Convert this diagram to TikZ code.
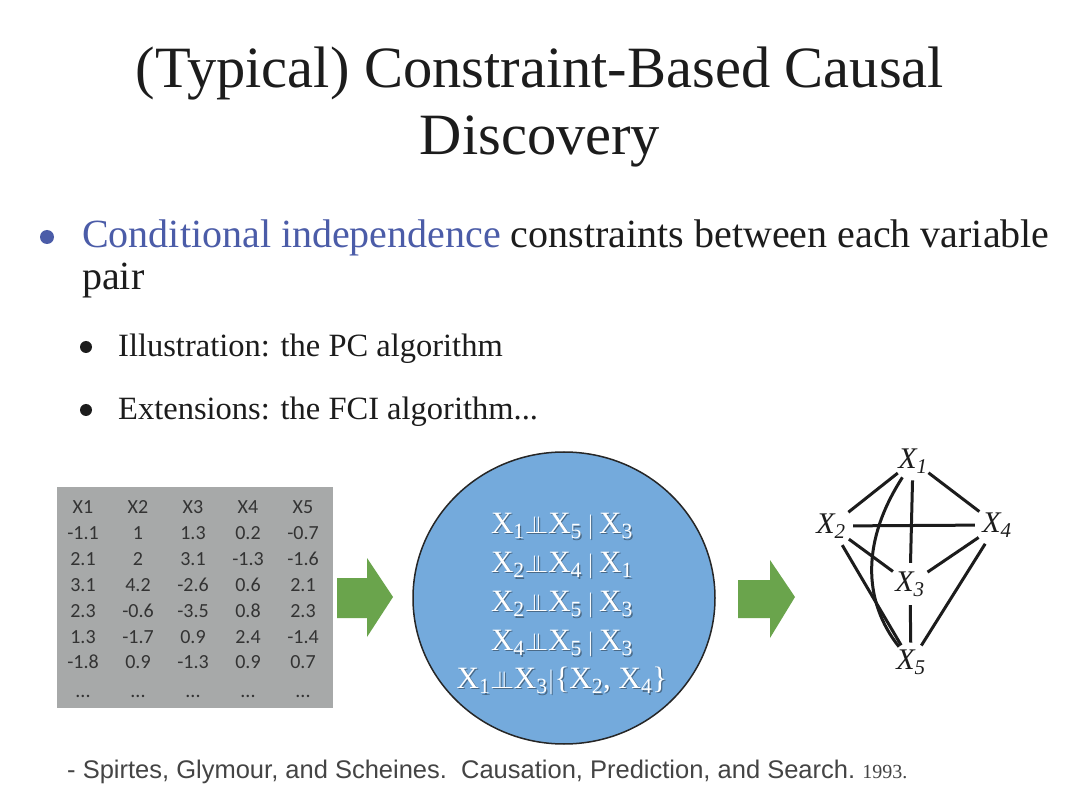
\documentclass[tikz,border=0pt]{standalone}
\usepackage{fontspec}
\setmainfont{Liberation Serif}
\newfontfamily\tabfont{Carlito}
\newfontfamily\citefont{Liberation Sans}
\definecolor{txt}{HTML}{1C1C1C}
\definecolor{blueword}{HTML}{4B5CA8}
\definecolor{tablegray}{HTML}{A7A9A9}
\definecolor{tabletext}{HTML}{333333}
\definecolor{arrowgreen}{HTML}{6AA44C}
\definecolor{circblue}{HTML}{74AADC}
\definecolor{citegray}{HTML}{444444}
\definecolor{shadowcol}{HTML}{4A6A88}
\tikzset{
  title/.style={font=\fontsize{58.5}{62}\selectfont, text=txt, anchor=base},
  bullettext/.style={font=\fontsize{40}{44}\selectfont, text=txt, anchor=base west, inner sep=0},
  subtext/.style={font=\fontsize{32.5}{36}\selectfont, text=txt, anchor=base west, inner sep=0},
  cell/.style={font=\tabfont\fontsize{20}{22}\selectfont, text=tabletext, anchor=base},
  indep/.style={font=\fontsize{31}{36}\selectfont, text=white, anchor=base},
  gnode/.style={circle, inner sep=0, minimum size=40pt, font=\itshape\fontsize{30}{32}\selectfont, text=txt},
  gedge/.style={line width=3pt, draw=txt},
  bigarrow/.style={fill=arrowgreen, draw=none},
}
\newcommand{\indsym}{$\perp\mkern-11mu\perp$}
\newcommand{\condbar}{\,$|$\,}
\newcommand{\shadowed}[1]{\makebox[0pt][l]{\hspace{1.2pt}\raisebox{-1.5pt}{\textcolor{shadowcol}{#1}}}#1}
\begin{document}
\begin{tikzpicture}[x=1pt,y=-1pt]
\useasboundingbox (0,0) rectangle (1080,810);
\fill[white] (0,0) rectangle (1080,810);
% title
\node[title] (t1) at (540,88) {(Typical) Constraint-Based Causal};
\node[title] (t2) at (540,155) {Discovery};
% bullets
\fill[blueword] (47,237) circle (7);
\node[bullettext] (b1) at (82,248) {\textcolor{blueword}{Conditional independence} constraints between each variable};
\node[bullettext] (b1b) at (82,290) {pair};
\fill[txt] (86,347) circle (6);
\node[subtext] (s1) at (118,357) {Illustration: the PC algorithm};
\fill[txt] (86,410) circle (6);
\node[subtext] (s2) at (118,420) {Extensions: the FCI algorithm...};
% data table
\fill[tablegray] (57,487) rectangle (333,708);
\foreach \x [count=\c] in {83,138,193,248,303} {
  \node[cell] at (\x,514) {X\c};
}
\foreach \row [count=\r] in {{-1.1,1,1.3,0.2,-0.7},{2.1,2,3.1,-1.3,-1.6},{3.1,4.2,-2.6,0.6,2.1},{2.3,-0.6,-3.5,0.8,2.3},{1.3,-1.7,0.9,2.4,-1.4},{-1.8,0.9,-1.3,0.9,0.7}} {
  \foreach \v [count=\c] in \row {
    \pgfmathsetmacro{\xx}{28+55*\c}
    \pgfmathsetmacro{\yy}{514+25.8*\r}
    \node[cell] at (\xx,\yy) {\v};
  }
}
\foreach \x in {83,138,193,248,303} {
  \node[cell] at (\x,697) {...};
}
% arrows
\fill[bigarrow] (337,578) -- (367,578) -- (367,558) -- (393,597) -- (367,637) -- (367,618) -- (337,618) -- cycle;
\fill[bigarrow] (738,580) -- (770,580) -- (770,560) -- (795,597) -- (770,638) -- (770,618) -- (738,618) -- cycle;
% circle
\draw[fill=circblue, draw=black!85, line width=1.5pt] (564,598) ellipse (151 and 146);
\node[indep] (c1) at (562,533) {\shadowed{X\textsubscript{1}\indsym X\textsubscript{5}\condbar X\textsubscript{3}}};
\node[indep] (c2) at (562,572) {\shadowed{X\textsubscript{2}\indsym X\textsubscript{4}\condbar X\textsubscript{1}}};
\node[indep] (c3) at (562,611) {\shadowed{X\textsubscript{2}\indsym X\textsubscript{5}\condbar X\textsubscript{3}}};
\node[indep] (c4) at (562,650) {\shadowed{X\textsubscript{4}\indsym X\textsubscript{5}\condbar X\textsubscript{3}}};
\node[indep] (c5) at (562,688) {\shadowed{X\textsubscript{1}\indsym X\textsubscript{3}$|$\{X\textsubscript{2}, X\textsubscript{4}\}}};
% graph
\node[gnode, minimum size=32pt] (x1) at (913,461) {X\textsubscript{1}};
\node[gnode, minimum size=44pt] (x2) at (831,526) {X\textsubscript{2}};
\node[gnode, minimum size=42pt] (x3) at (910,584) {X\textsubscript{3}};
\node[gnode, minimum size=44pt] (x4) at (997,525) {X\textsubscript{4}};
\node[gnode, minimum size=30pt] (x5) at (911,662) {X\textsubscript{5}};
\draw[gedge] (x1) -- (x2);
\draw[gedge] (x1) -- (x4);
\draw[gedge] (x1) -- (x3);
\draw[gedge] (x2) -- (x4);
\draw[gedge] (x2) -- (x3);
\draw[gedge] (x4) -- (x3);
\draw[gedge] (x2) -- (x5);
\draw[gedge] (x3) -- (x5);
\draw[gedge] (x4) -- (x5);
\draw[gedge] (x1) .. controls (862,540) and (862,600) .. (x5);
% citation
\node[anchor=base west, inner sep=0, text=citegray] (cite) at (67,778) {\citefont\fontsize{25.5}{28}\selectfont - Spirtes, Glymour, and Scheines.\ \ Causation, Prediction, and Search.\ \fontsize{20}{20}\selectfont\rmfamily 1993.};
\end{tikzpicture}
\end{document}
